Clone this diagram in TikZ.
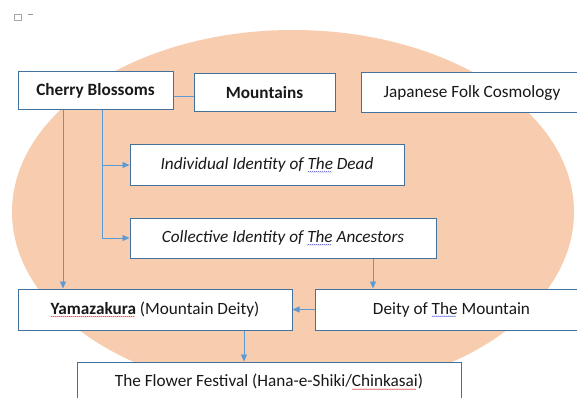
\documentclass[tikz,border=0pt]{standalone}
\usepackage{fontspec}
\setmainfont{Carlito}
\usetikzlibrary{arrows.meta}
\definecolor{peach}{HTML}{F8CDAF}
\definecolor{boxline}{HTML}{41719C}
\definecolor{conn}{HTML}{5B9BD5}
\definecolor{sqblue}{HTML}{3F48CC}
\definecolor{sqred}{HTML}{E03030}
\newsavebox\sqword
\newcommand\squig[2]{\leavevmode\sbox\sqword{#2}\rlap{\lower2.8pt\hbox to\wd\sqword{\leaders\hbox{\tikz\draw[#1,line width=0.4pt,x=1pt,y=1pt] (0,0)--(0.8,0.7)--(1.6,0);}\hfill}}\usebox\sqword}
\tikzset{
  boxnode/.style={draw=boxline, line width=1pt, fill=white, inner sep=0pt, align=center,
    font=\fontsize{17.2}{20}\selectfont, text=black!90},
  link/.style={draw=conn, line width=0.9pt},
  arr/.style={link, -{Triangle[length=7pt,width=6pt]}}
}
\begin{document}
\begin{tikzpicture}[x=1pt,y=-1pt]
\clip (0,0) rectangle (577,398);
\fill[white] (0,0) rectangle (577,398);
% top-left artifact
\draw[gray!70, line width=0.6pt] (14,14) rectangle (21,20);
\draw[gray!80, line width=0.8pt] (28,14) -- (33,14);
% background ellipse
\fill[peach] (293,212) ellipse [x radius=281, y radius=182];
% boxes
\node[boxnode, minimum width=155pt, minimum height=38pt] (cb) at (95.5,91) {\bfseries Cherry Blossoms};
\node[boxnode, minimum width=141pt, minimum height=38pt] (mt) at (264.5,93) {\bfseries Mountains};
\node[boxnode, minimum width=222pt, minimum height=40pt] (jf) at (472,93) {Japanese Folk Cosmology};
\node[boxnode, minimum width=274pt, minimum height=40pt] (ind) at (267,165) {\itshape Individual Identity of \squig{sqblue}{The} Dead};
\node[boxnode, minimum width=306pt, minimum height=40pt] (col) at (283,238) {\itshape Collective Identity of \squig{sqblue}{The} Ancestors};
\node[boxnode, minimum width=274pt, minimum height=41pt] (yam) at (155,309.5) {\squig{sqred}{\bfseries Yamazakura} (Mountain Deity)};
\node[boxnode, minimum width=273pt, minimum height=41pt] (dei) at (451.5,309.5) {Deity of \squig{sqblue}{The} Mountain};
\node[boxnode, minimum width=384pt, minimum height=40pt] (fl) at (269,382) {The Flower Festival (Hana-e-Shiki/\squig{sqred}{Chinkasai})};
% connectors
\coordinate (xa) at (63,0);
\coordinate (xb) at (102,0);
\coordinate (xc) at (373,0);
\coordinate (xd) at (244,0);
\draw[link] ([yshift=-5pt]cb.east) -- ([yshift=-3pt]mt.west);
\draw[arr] (cb.south -| xa) -- (yam.north -| xa);
\draw[link] (cb.south -| xb) -- (col.west -| xb);
\draw[arr] (ind.west -| xb) -- (ind.west);
\draw[arr] (col.west -| xb) -- (col.west);
\draw[arr] (col.south -| xc) -- (dei.north -| xc);
\draw[arr] (dei.west) -- (yam.east);
\draw[arr] (yam.south -| xd) -- (fl.north -| xd);
\end{tikzpicture}
\end{document}
